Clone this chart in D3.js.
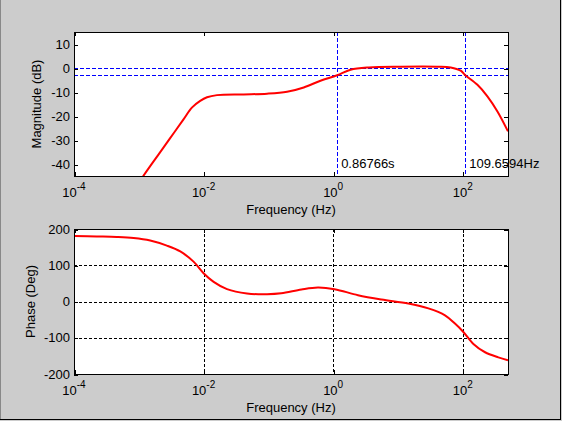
<!DOCTYPE html>
<html>
<head>
<meta charset="utf-8">
<script src="https://cdn.jsdelivr.net/npm/d3@7"></script>
<style>
  html, body { margin: 0; padding: 0; background: #cccccc; }
  svg { display: block; }
  text { font-family: "Liberation Sans", Arial, sans-serif; font-size: 13px; fill: #000; }
</style>
</head>
<body>
<svg id="chart" width="562" height="421"></svg>
<script>
// ---- data ----
const magFreq = [0.001, 0.00118, 0.00168, 0.0024, 0.00343, 0.0049, 0.0066, 0.00887, 0.0113, 0.0161,
  0.0415, 0.0955, 0.1945, 0.3516, 0.637, 1.1525, 1.854, 3.556, 10.99, 40.55, 65.2, 93.1, 109.66,
  168.7, 240.4, 343.6, 500];
const magDb = [-47.8, -44.9, -39.0, -33.2, -27.3, -21.4, -16.5, -13.7, -12.2, -11.3,
  -11.0, -10.7, -9.9, -8.1, -5.3, -3.0, -0.7, 0.25, 0.55, 0.55, 0.25, -1.1, -3.0,
  -7.0, -11.8, -18.1, -26.4];

const phaseFreq = [1e-4, 2.24e-4, 4.57e-4, 8.32e-4, 1.5e-3, 2.71e-3, 4.37e-3, 7.0e-3, 0.01, 0.0143,
  0.023, 0.0468, 0.0955, 0.158, 0.324, 0.582, 1.052, 2.415, 5.58, 14.45, 29.5, 53.3, 75.9,
  102.3, 146.2, 221.3, 354.8, 500];
const phaseDeg = [181, 179.5, 178, 175, 168, 154, 138, 110, 78, 54,
  34, 22, 20, 22.5, 33, 38.5, 34, 17.5, 5.5, -5.6, -19, -38, -61,
  -84, -117, -140, -154, -162];

const xTicks = [1e-4, 1e-2, 1, 1e2];
const xTickExp = ["-4", "-2", "0", "2"];
const magTicks = [10, 0, -10, -20, -30, -40];
const phaseTicks = [200, 100, 0, -100, -200];
const phaseGrid = [100, 0, -100];
const refLevels = [0, -3];
const markerFreqs = [1 / 0.86766, 109.6594];
const markerLabels = ["0.86766s", "109.6594Hz"];
const markerLabelDb = -41.7;

// ---- layout ----
const svg = d3.select("#chart");
const left = 74, right = 508;
const top1 = 32, bot1 = 176;
const top2 = 229, bot2 = 374;

const x = d3.scaleLog().domain([1e-4, 500]).range([left, right]);
const yMag = d3.scaleLinear().domain([-45, 15]).range([bot1, top1]);
const yPh = d3.scaleLinear().domain([-200, 200]).range([bot2, top2]);

const px = v => Math.round(v) + 0.5;

// figure border
svg.append("line").attr("x1", 0.5).attr("x2", 0.5).attr("y1", 0).attr("y2", 420).attr("stroke", "#888");
svg.append("line").attr("x1", 560.5).attr("x2", 560.5).attr("y1", 0).attr("y2", 420).attr("stroke", "#000");
svg.append("line").attr("x1", 0).attr("x2", 561).attr("y1", 419.5).attr("y2", 419.5).attr("stroke", "#000");

function panel(yScale, yTop, yBot, yTicks, id) {
  const g = svg.append("g");
  g.append("rect").attr("x", left).attr("y", yTop).attr("width", right - left).attr("height", yBot - yTop)
    .attr("fill", "#fff");
  g.append("clipPath").attr("id", id).append("rect")
    .attr("x", left).attr("y", yTop).attr("width", right - left).attr("height", yBot - yTop);

  const axes = g.append("g").attr("class", "axes");
  const mk = (axisFn, scale, ticks, tr) => {
    const a = axisFn(scale).tickValues(ticks).tickSize(-4).tickSizeOuter(0).tickFormat("");
    const s = axes.append("g").attr("transform", tr).call(a);
    s.select(".domain").remove();
    s.selectAll("line").attr("stroke", "#000").attr("shape-rendering", "crispEdges");
  };
  mk(d3.axisBottom, x, xTicks, `translate(0.5,${yBot})`);
  mk(d3.axisTop, x, xTicks, `translate(0.5,${yTop})`);
  mk(d3.axisLeft, yScale, yTicks, `translate(${left},0.5)`);
  mk(d3.axisRight, yScale, yTicks, `translate(${right},0.5)`);

  // tick labels
  xTicks.forEach((t, i) => {
    const tx = g.append("text").attr("x", x(t)).attr("y", yBot + 21).attr("text-anchor", "middle");
    tx.append("tspan").text("10");
    tx.append("tspan").attr("dy", -7).attr("font-size", "10px").text(xTickExp[i]);
  });
  yTicks.forEach(t => {
    g.append("text").attr("x", left - 4).attr("y", yScale(t)).attr("dy", "0.36em")
      .attr("text-anchor", "end").text(t);
  });
  g.append("text").attr("x", (left + right) / 2).attr("y", yBot + 38).attr("text-anchor", "middle")
    .text("Frequency (Hz)");
  return g;
}

const curve = d3.curveCatmullRom.alpha(0.5);

// ---- magnitude panel ----
const g1 = panel(yMag, top1, bot1, magTicks, "clip1");
refLevels.forEach(r => {
  g1.append("line").attr("x1", left).attr("x2", right).attr("y1", px(yMag(r))).attr("y2", px(yMag(r)))
    .attr("stroke", "#0000ff").attr("stroke-dasharray", "4,2").attr("shape-rendering", "crispEdges");
});
markerFreqs.forEach(f => {
  g1.append("line").attr("x1", px(x(f))).attr("x2", px(x(f))).attr("y1", top1).attr("y2", bot1)
    .attr("stroke", "#0000ff").attr("stroke-dasharray", "4,2").attr("shape-rendering", "crispEdges");
});
g1.append("path")
  .datum(magFreq.map((f, i) => [f, magDb[i]]))
  .attr("clip-path", "url(#clip1)")
  .attr("fill", "none").attr("stroke", "#ff0000").attr("stroke-width", 2)
  .attr("d", d3.line().x(d => x(d[0])).y(d => yMag(d[1])).curve(curve));
g1.append("rect").attr("x", left + 0.5).attr("y", top1 + 0.5).attr("width", right - left).attr("height", bot1 - top1)
  .attr("fill", "none").attr("stroke", "#000").attr("shape-rendering", "crispEdges");
markerFreqs.forEach((f, i) => {
  g1.append("text").attr("x", x(f) + 4).attr("y", yMag(markerLabelDb)).text(markerLabels[i]);
});
g1.append("text").attr("transform", `translate(41,${(top1 + bot1) / 2}) rotate(-90)`)
  .attr("text-anchor", "middle").text("Magnitude (dB)");

// ---- phase panel ----
const g2 = panel(yPh, top2, bot2, phaseTicks, "clip2");
phaseGrid.forEach(r => {
  g2.append("line").attr("x1", left).attr("x2", right).attr("y1", px(yPh(r))).attr("y2", px(yPh(r)))
    .attr("stroke", "#000").attr("stroke-dasharray", "3,2").attr("shape-rendering", "crispEdges");
});
xTicks.slice(1).forEach(t => {
  g2.append("line").attr("x1", px(x(t))).attr("x2", px(x(t))).attr("y1", top2).attr("y2", bot2)
    .attr("stroke", "#000").attr("stroke-dasharray", "3,2").attr("shape-rendering", "crispEdges");
});
g2.append("path")
  .datum(phaseFreq.map((f, i) => [f, phaseDeg[i]]))
  .attr("clip-path", "url(#clip2)")
  .attr("fill", "none").attr("stroke", "#ff0000").attr("stroke-width", 2)
  .attr("d", d3.line().x(d => x(d[0])).y(d => yPh(d[1])).curve(curve));
g2.append("rect").attr("x", left + 0.5).attr("y", top2 + 0.5).attr("width", right - left).attr("height", bot2 - top2)
  .attr("fill", "none").attr("stroke", "#000").attr("shape-rendering", "crispEdges");
g2.append("text").attr("transform", `translate(34.5,${(top2 + bot2) / 2}) rotate(-90)`)
  .attr("text-anchor", "middle").text("Phase (Deg)");
</script>
</body>
</html>
